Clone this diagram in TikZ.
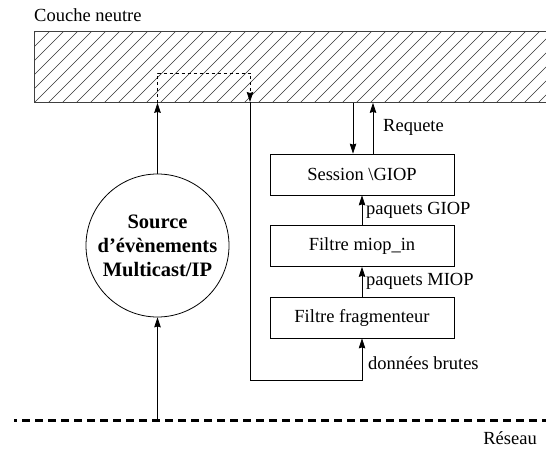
\documentclass[tikz,border=0pt]{standalone}
\usepackage{fontspec}
\setmainfont{Liberation Serif}
\usetikzlibrary{arrows.meta}
\begin{document}
\begin{tikzpicture}[x=1pt,y=-1pt,
  every node/.style={font=\fontsize{18.5}{22}\selectfont},
  arr/.style={-{Stealth[length=10pt,width=6.5pt,inset=1pt]}, line width=0.8pt},
  boxnode/.style={draw, line width=0.8pt, minimum width=184pt, minimum height=41pt, inner sep=0pt},
  hatch/.style={line width=0.5pt, black!80},
  lbl/.style={anchor=west, inner sep=0pt}
]
\useasboundingbox (0,0) rectangle (546,449);
% layer
\node[lbl] (couche) at (34,15) {Couche neutre};
\node[draw, line width=0.9pt, black!75, anchor=north west, minimum width=540pt, minimum height=71pt, inner sep=0pt,
  path picture={\foreach \i in {-6,...,42} {\draw[hatch] ([xshift=\i*14pt]path picture bounding box.south west) -- ++(71pt,71pt);}}]
  (layer) at (34,31) {};
% boxes
\node[boxnode] (session) at (362,174.5) {Session \textbackslash GIOP};
\node[boxnode] (miop) at (362,246) {Filtre miop\_in};
\node[boxnode] (frag) at (362,317.5) {Filtre fragmenteur};
% source circle
\node[draw, circle, line width=0.8pt, minimum size=143pt, inner sep=0pt, align=center,
  font=\fontsize{20.5}{24}\selectfont\bfseries] (src) at (157.5,245.5) {Source\\d’évènements\\Multicast/IP};
% network
\coordinate (netL) at (14,420);
\coordinate (netR) at (546,420);
\draw[line width=3pt, dash pattern=on 8pt off 5pt, dash phase=5pt] (netL) -- (netR);
\node[anchor=east, inner sep=0pt] (reseau) at (537,438) {Réseau};
% connectors
\coordinate (netsrc) at (src.south |- netL);
\draw[arr] (netsrc) -- (src.south);
\coordinate (entry) at (src.north |- layer.south);
\draw[arr] (src.north) -- (entry);
\coordinate (exit) at (250,102);
\draw[arr, dashed, line width=0.7pt] (entry) -- ++(0,-30) -| (exit);
\coordinate (bot) at (362,380);
\draw[arr] (exit) |- (bot) -- (frag.south);
\draw[arr] (frag.north) -- (miop.south);
\draw[arr] (miop.north) -- (session.south);
\coordinate (sdown) at ([xshift=-9pt]session.north);
\coordinate (sup2) at ([xshift=11pt]session.north);
\draw[arr] (sdown |- layer.south) -- (sdown);
\draw[arr] (sup2) -- (sup2 |- layer.south);
% labels
\node[lbl] (req) at (383,127) {Requete};
\node[lbl] (pgiop) at (366,210) {paquets GIOP};
\node[lbl] (pmiop) at (366,281) {paquets MIOP};
\node[lbl] (brut) at (368,363) {données brutes};
\end{tikzpicture}
\end{document}
